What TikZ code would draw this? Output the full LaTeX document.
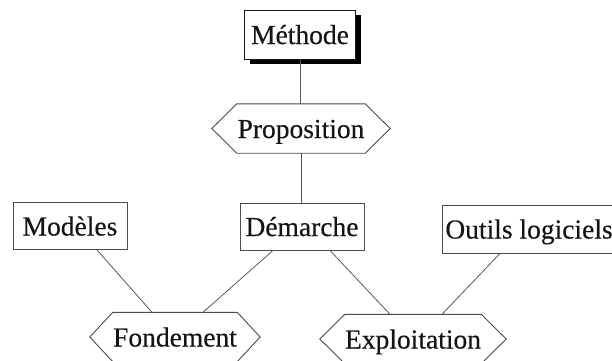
\documentclass[tikz,border=0pt]{standalone}
\usepackage{fontspec}
\setmainfont[FakeBold=0.3]{Liberation Serif}
\usetikzlibrary{shadows}

% Hexagonal frame with pointed left and right ends around a named node
\newcommand\hexframe[2]{%
  \draw[hexline] (#1.north west) -- (#1.north east) -- ([xshift=#2]#1.east)
    -- (#1.south east) -- (#1.south west) -- ([xshift=-#2]#1.west) -- cycle;}

\begin{document}
\begin{tikzpicture}[x=1pt,y=-1pt,
  every node/.style={font=\fontsize{27.5}{30}\selectfont, text=black!92,
    inner sep=0pt, text height=19pt, text depth=0pt},
  box/.style={draw=black!70, line width=0.9pt, fill=white, minimum height=47pt},
  hexa/.style={minimum height=49pt},
  hexline/.style={draw=black!70, line width=0.9pt},
  link/.style={draw=black!65, line width=0.8pt}]
\useasboundingbox (0,0) rectangle (612,360);

% rectangular boxes
\node[box, draw=black!90, minimum width=111pt, minimum height=49pt,
  drop shadow={shadow xshift=5pt, shadow yshift=-5pt, fill=black, opacity=1}]
  (meth) at (300,34.5) {Méthode};
\node[box, minimum width=124pt] (dem) at (302,226.5) {Démarche};
\node[box, minimum width=114pt] (mod) at (70,226) {Modèles};
\node[box, minimum width=174pt, minimum height=48pt] (out) at (529,229) {Outils logiciels};

% hexagonal boxes
\node[hexa, minimum width=128pt] (prop) at (301,128.5) {Proposition};
\node[hexa, minimum width=124pt] (fond) at (175,337) {Fondement};
\node[hexa, minimum width=130pt] (expl) at (413,339) {Exploitation};
\hexframe{prop}{25pt}
\hexframe{fond}{23pt}
\hexframe{expl}{25pt}

% connectors
\draw[link] (meth.south) -- (meth.south |- prop.north);
\draw[link] (prop.south) -- (prop.south |- dem.north);
\draw[link] ([xshift=27pt]mod.south) -- ([xshift=-23pt]fond.north);
\draw[link] ([xshift=-29pt]dem.south) -- ([xshift=28pt]fond.north);
\draw[link] ([xshift=28pt]dem.south) -- ([xshift=-23pt]expl.north);
\draw[link] ([xshift=-29pt]out.south) -- ([xshift=29pt]expl.north);
\end{tikzpicture}
\end{document}
